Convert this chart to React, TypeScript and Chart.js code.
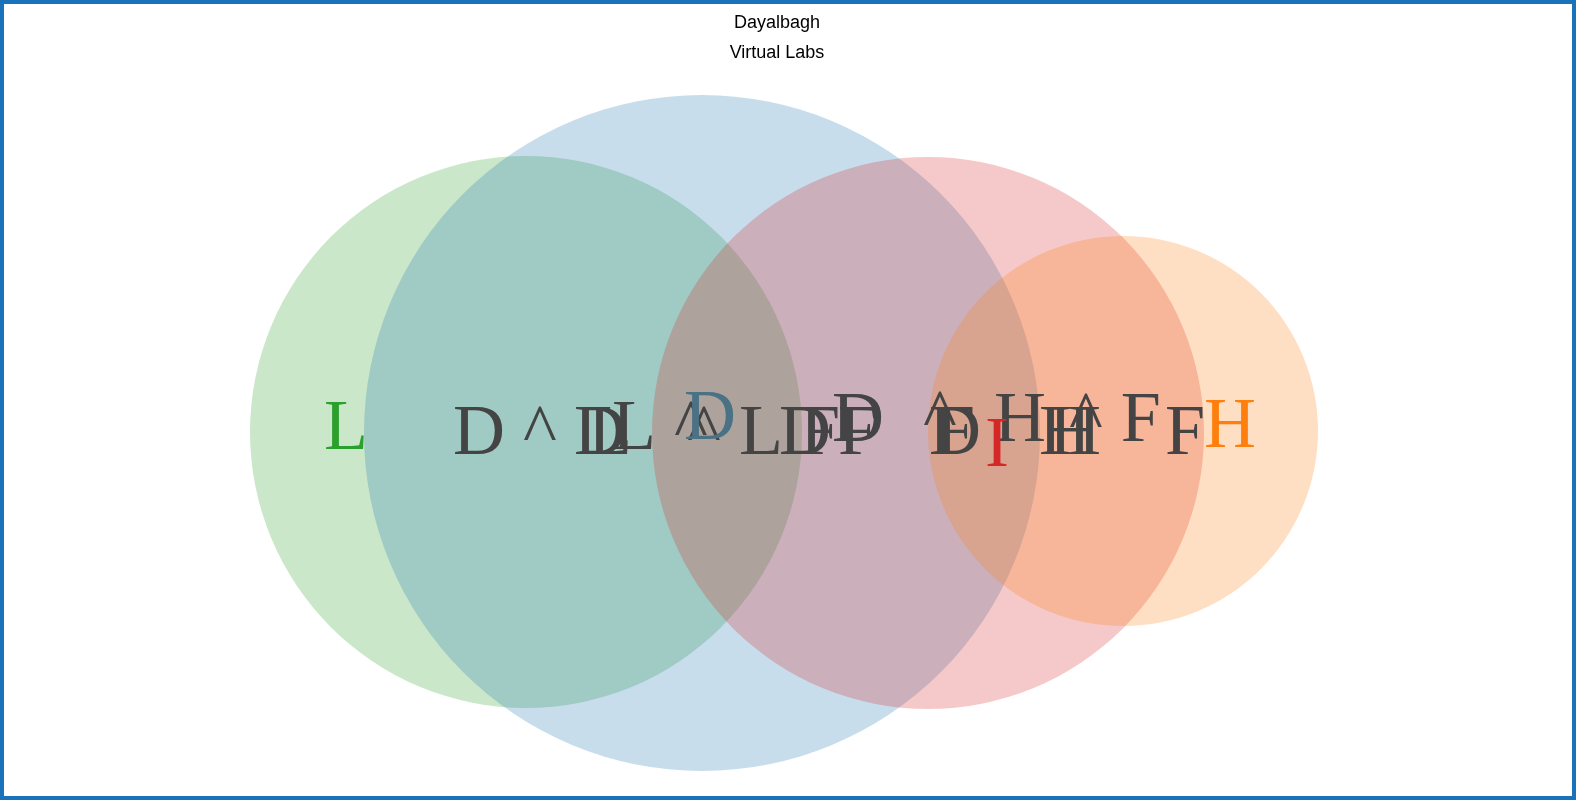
import React, { useEffect, useRef } from "react";
import { Chart, registerables } from "chart.js";
Chart.register(...registerables);

const setNames = ["L", "D", "I", "H"];
const setCx = [526, 702, 928, 1123];
const setCy = [432, 433, 433, 431];
const setR = [276, 338, 276, 195];
const setFill = ["rgba(44,160,44,0.25)", "rgba(31,119,180,0.25)", "rgba(214,39,40,0.25)", "rgba(255,127,14,0.25)"];
const setTextColor = ["#2ca02c", "#4a7184", "#d62728", "#ff7f0e"];
const setLabelX = [346, 710, 997, 1230];
const setLabelY = [430, 420, 447, 428];

const interTexts = ["D ^", "D", "L ^", "L", "^ L", "D", "F", "D", "F", "^", "D", "F", "H", "H", "H", "^ F", "F"];
const interX = [505, 600, 660, 610, 735, 805, 820, 858, 858, 940, 955, 955, 1020, 1065, 1075, 1115, 1185];
const interY = [435, 435, 430, 435, 435, 435, 435, 422, 435, 420, 435, 435, 422, 435, 435, 422, 435];

const drawPlugin = {
  id: "venn",
  afterDatasetsDraw(chart: any) {
    const { ctx, scales } = chart;
    const xs = scales.x, ys = scales.y;
    const k = Math.abs(xs.getPixelForValue(1) - xs.getPixelForValue(0));
    ctx.save();
    setCx.forEach((cx, i) => {
      ctx.beginPath();
      ctx.arc(xs.getPixelForValue(cx), ys.getPixelForValue(setCy[i]), setR[i] * k, 0, Math.PI * 2);
      ctx.fillStyle = setFill[i];
      ctx.fill();
    });
    ctx.textAlign = "center";
    ctx.textBaseline = "middle";
    ctx.font = "72px 'Liberation Serif'";
    interTexts.forEach((t, i) => {
      ctx.fillStyle = "#444444";
      ctx.fillText(t, xs.getPixelForValue(interX[i]), ys.getPixelForValue(interY[i]));
    });
    setNames.forEach((t, i) => {
      ctx.fillStyle = setTextColor[i];
      ctx.fillText(t, xs.getPixelForValue(setLabelX[i]), ys.getPixelForValue(setLabelY[i]));
    });
    ctx.fillStyle = "#000";
    ctx.font = "18px 'Liberation Sans', Arial, sans-serif";
    ctx.fillText("Dayalbagh", xs.getPixelForValue(777), ys.getPixelForValue(23));
    ctx.fillText("Virtual Labs", xs.getPixelForValue(777), ys.getPixelForValue(53));
    ctx.restore();
  },
};

export default function App() {
  const ref = useRef<HTMLCanvasElement>(null);
  useEffect(() => {
    document.body.style.margin = "0";
    const chart = new Chart(ref.current!, {
      type: "scatter",
      data: { datasets: [{ data: [], showLine: false }] },
      options: {
        animation: false,
        responsive: true,
        maintainAspectRatio: false,
        layout: { padding: 0 },
        plugins: { legend: { display: false }, tooltip: { enabled: false }, title: { display: false } },
        scales: {
          x: { type: "linear", min: 4, max: 1572, display: false },
          y: { type: "linear", min: 4, max: 796, reverse: true, display: false },
        },
      },
      plugins: [drawPlugin],
    });
    return () => chart.destroy();
  }, []);
  return (
    <div style={{ width: 1576, height: 800, boxSizing: "border-box", border: "4px solid #1a72bb", background: "#fff" }}>
      <div style={{ width: 1568, height: 792, position: "relative" }}>
        <canvas ref={ref} />
      </div>
    </div>
  );
}
